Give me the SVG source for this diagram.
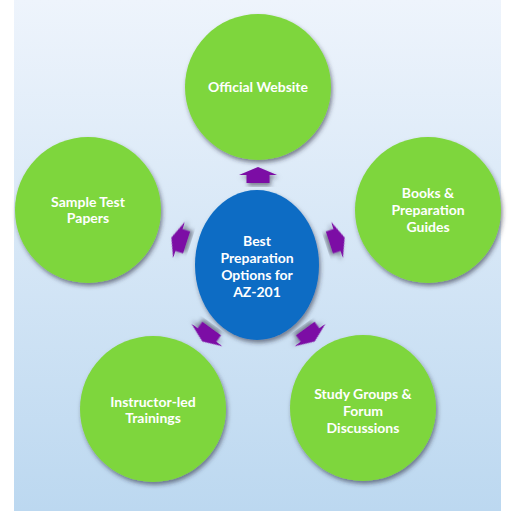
<svg xmlns="http://www.w3.org/2000/svg" width="516" height="511" viewBox="0 0 516 511">
  <defs>
    <linearGradient id="bg" x1="0" y1="0" x2="0" y2="1">
      <stop offset="0" stop-color="#eef4fc"/>
      <stop offset="1" stop-color="#bcd8f0"/>
    </linearGradient>
    <filter id="sh" x="-20%" y="-20%" width="140%" height="140%">
      <feDropShadow dx="1.5" dy="3" stdDeviation="2" flood-color="#2a2a3a" flood-opacity="0.55"/>
    </filter>
    <polygon id="arr" points="0,-8 19,0 11.5,0 11.5,8 -11.5,8 -11.5,0 -19,0"/>
  </defs>
  <style>
    .opt { fill: #7ed63c; filter: url(#sh); }
    .hub { fill: #0a6cc4; filter: url(#sh); }
    .lbl { font-family: Lato, "Liberation Sans", sans-serif; font-weight: bold; font-size: 14px; fill: #ffffff; text-anchor: middle; }
    .arrow { fill: #7b0aa5; filter: url(#sh); }
  </style>
  <rect x="0" y="0" width="516" height="511" fill="#ffffff"/>
  <rect x="14" y="0" width="487" height="511" fill="url(#bg)"/>

  <g id="connectors">
    <use href="#arr" class="arrow" transform="translate(258,175)"/>
    <use href="#arr" class="arrow" transform="translate(179,240) rotate(-72)"/>
    <use href="#arr" class="arrow" transform="translate(337,240) rotate(72)"/>
    <use href="#arr" class="arrow" transform="translate(207,335) rotate(-144)"/>
    <use href="#arr" class="arrow" transform="translate(310,335) rotate(144)"/>
  </g>

  <g id="hub">
    <ellipse class="hub" cx="257" cy="265" rx="62" ry="75"/>
    <text class="lbl" x="257" y="246">Best</text>
    <text class="lbl" x="257" y="263">Preparation</text>
    <text class="lbl" x="257" y="280">Options for</text>
    <text class="lbl" x="257" y="297">AZ-201</text>
  </g>

  <g id="official-website">
    <circle class="opt" cx="258" cy="87" r="73"/>
    <text class="lbl" x="258" y="92">Official Website</text>
  </g>

  <g id="sample-test-papers">
    <circle class="opt" cx="88" cy="210" r="73"/>
    <text class="lbl" x="88" y="207">Sample Test</text>
    <text class="lbl" x="88" y="223">Papers</text>
  </g>

  <g id="books-guides">
    <circle class="opt" cx="428" cy="210" r="73"/>
    <text class="lbl" x="428" y="198">Books &amp;</text>
    <text class="lbl" x="428" y="215">Preparation</text>
    <text class="lbl" x="428" y="232">Guides</text>
  </g>

  <g id="instructor-led">
    <circle class="opt" cx="153" cy="409" r="73"/>
    <text class="lbl" x="153" y="407">Instructor-led</text>
    <text class="lbl" x="153" y="423">Trainings</text>
  </g>

  <g id="study-groups">
    <circle class="opt" cx="363" cy="408" r="73"/>
    <text class="lbl" x="363" y="399">Study Groups &amp;</text>
    <text class="lbl" x="363" y="416">Forum</text>
    <text class="lbl" x="363" y="433">Discussions</text>
  </g>
</svg>
